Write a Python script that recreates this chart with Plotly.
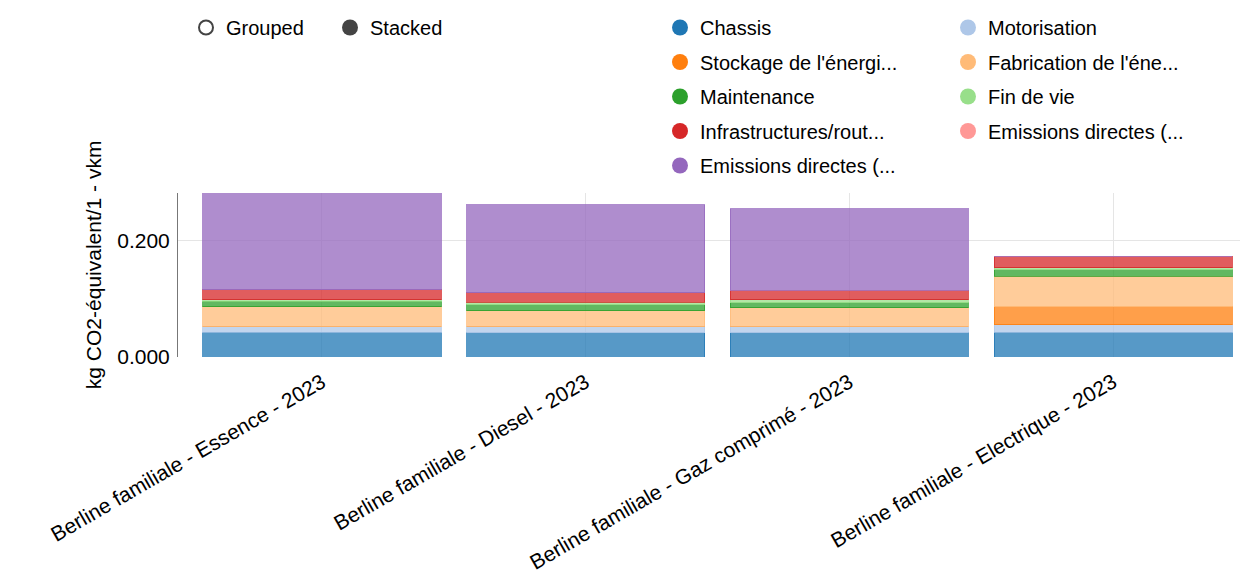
import plotly.graph_objects as go

categories = [
    "Berline familiale - Essence - 2023",
    "Berline familiale - Diesel - 2023",
    "Berline familiale - Gaz comprimé - 2023",
    "Berline familiale - Electrique - 2023",
]

series_names = [
    "Chassis",
    "Motorisation",
    "Stockage de l'énergi...",
    "Fabrication de l'éne...",
    "Maintenance",
    "Fin de vie",
    "Infrastructures/rout...",
    "Emissions directes (...",
    "Emissions directes (...",
]

chassis = [0.0423, 0.0417, 0.0417, 0.0428]
motorisation = [0.0103, 0.0114, 0.0109, 0.0126]
stockage = [0.0, 0.0, 0.0, 0.0303]
fabrication = [0.0331, 0.0263, 0.0314, 0.0526]
maintenance = [0.0097, 0.0103, 0.0091, 0.0109]
fin_de_vie = [0.0029, 0.0040, 0.0051, 0.0040]
infrastructures = [0.0171, 0.0166, 0.0160, 0.0194]
emissions_autres = [0.0, 0.0, 0.0, 0.0]
emissions_directes = [0.1657, 0.1508, 0.1400, 0.0]

series_values = [chassis, motorisation, stockage, fabrication, maintenance,
                 fin_de_vie, infrastructures, emissions_autres, emissions_directes]

colors = ["#1f77b4", "#aec7e8", "#ff7f0e", "#ffbb78", "#2ca02c",
          "#98df8a", "#d62728", "#ff9896", "#9467bd"]

y_ticks = [0.0, 0.2]
y_title = "kg CO2-équivalent/1 - vkm"
mode_labels = ["Grouped", "Stacked"]

FONT = "Liberation Sans, Arial, sans-serif"


def rgba(hex_color, a):
    h = hex_color.lstrip("#")
    r, g, b = int(h[0:2], 16), int(h[2:4], 16), int(h[4:6], 16)
    return f"rgba({r},{g},{b},{a})"


fig = go.Figure()

for name, vals, col in zip(series_names, series_values, colors):
    fig.add_trace(go.Bar(
        x=categories, y=vals, name=name, showlegend=False,
        marker=dict(color=rgba(col, 0.75), line=dict(color=rgba(col, 0.75), width=1)),
    ))

# legend entries (circle markers), split into two columns
for i, (name, col) in enumerate(zip(series_names, colors)):
    fig.add_trace(go.Scatter(
        x=[None], y=[None], mode="markers", name=name,
        legend="legend" if i % 2 == 0 else "legend2",
        legendgroup=f"g{i}",
        marker=dict(color=col, size=16, symbol="circle"),
    ))

# Grouped / Stacked control
fig.add_trace(go.Scatter(
    x=[None], y=[None], mode="markers", name=mode_labels[0], legend="legend3",
    marker=dict(color="white", size=14, symbol="circle", line=dict(color="#444", width=2)),
))
fig.add_trace(go.Scatter(
    x=[None], y=[None], mode="markers", name=mode_labels[1], legend="legend3",
    marker=dict(color="#444", size=16, symbol="circle", line=dict(color="#444", width=0)),
))

legend_common = dict(
    xref="container", yref="container", xanchor="left", yanchor="top",
    bgcolor="rgba(0,0,0,0)", borderwidth=0,
    font=dict(family=FONT, size=20, color="#000"),
    itemclick=False, itemdoubleclick=False,
)

fig.update_layout(
    width=1248, height=588,
    barmode="stack", bargap=0.097,
    paper_bgcolor="white", plot_bgcolor="white",
    font=dict(family=FONT, size=20, color="#000"),
    margin=dict(l=170, r=11, t=185, b=239, autoexpand=False),
    legend=dict(**legend_common, x=652 / 1248, y=1.0,
                orientation="v", tracegroupgap=5.5),
    legend2=dict(**legend_common, x=940 / 1248, y=1.0,
                 orientation="v", tracegroupgap=5.5),
    legend3=dict(**legend_common, x=178 / 1248, y=1.0,
                 orientation="h", entrywidth=99, entrywidthmode="pixels"),
    xaxis=dict(
        range=[-0.546, 3.5], showgrid=True, gridcolor="#e5e5e5", gridwidth=1,
        showline=False, zeroline=False, tickangle=-30,
        ticks="outside", ticklen=4, tickcolor="rgba(0,0,0,0)",
        tickfont=dict(family=FONT, size=21, color="#000"),
    ),
    yaxis=dict(
        range=[0, 0.281], tickvals=y_ticks, tickformat=".3f",
        showgrid=True, gridcolor="#e5e5e5", gridwidth=1,
        showline=True, linecolor="#777", linewidth=1, zeroline=False,
        ticks="", ticklabelstandoff=3,
        tickfont=dict(family=FONT, size=21, color="#000"),
    ),
    annotations=[dict(
        text=y_title, xref="paper", yref="paper",
        x=(93 - 178) / 1067, y=0.56, textangle=-90,
        xanchor="center", yanchor="middle", showarrow=False,
        font=dict(family=FONT, size=21, color="#000"),
    )],
)

fig.write_html("out.html")
